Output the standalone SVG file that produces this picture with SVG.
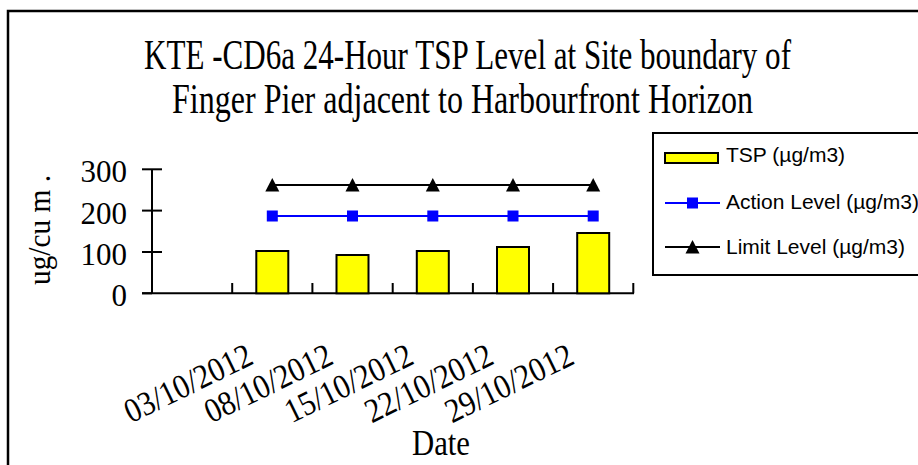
<svg xmlns="http://www.w3.org/2000/svg" width="918" height="465" viewBox="0 0 918 465">
<style>
.serif{font-family:"Liberation Serif","Times New Roman",serif;fill:#000}
.sans{font-family:"Liberation Sans",Arial,sans-serif;fill:#000;font-size:21px}
.ax{stroke:#000;stroke-width:2;fill:none}
.bar{fill:#ffff00;stroke:#000;stroke-width:2}
.act{stroke:#0000ff;stroke-width:2;fill:none}
.lim{stroke:#000;stroke-width:2;fill:none}
.sq{fill:#0000ff}
.tri{fill:#000}
.tick{font-size:31px;text-anchor:end}
.date{font-size:34px;text-anchor:end}
</style>
<defs>
<rect id="sqm" x="-5.5" y="-5.5" width="11" height="11" class="sq"/>
<polygon id="trim" points="0,-7 7,6.5 -7,6.5" class="tri"/>
</defs>
<rect width="918" height="465" fill="#fff"/>
<rect x="8" y="11" width="1000" height="1000" fill="none" stroke="#000" stroke-width="2.5"/>
<g id="title" class="serif" font-size="42">
<text x="144" y="69" textLength="647" lengthAdjust="spacingAndGlyphs">KTE -CD6a 24-Hour TSP Level at Site boundary of</text>
<text x="172" y="113" textLength="581" lengthAdjust="spacingAndGlyphs">Finger Pier adjacent to Harbourfront Horizon</text>
</g>
<g id="yaxis">
<line class="ax" x1="152" y1="169.3" x2="152" y2="293.3"/>
<line class="ax" x1="142" y1="169.3" x2="162" y2="169.3"/>
<line class="ax" x1="142" y1="210.6" x2="162" y2="210.6"/>
<line class="ax" x1="142" y1="252" x2="162" y2="252"/>
<line class="ax" x1="142" y1="293.3" x2="152" y2="293.3"/>
<g class="serif tick">
<text x="127" y="182">300</text>
<text x="127" y="224">200</text>
<text x="127" y="265">100</text>
<text x="127" y="306">0</text>
</g>
<text class="serif" font-size="31" text-anchor="middle" transform="translate(50,230) rotate(-90)" textLength="110" lengthAdjust="spacingAndGlyphs">ug/cu m .</text>
</g>
<g id="xaxis">
<line class="ax" x1="142" y1="293.3" x2="634" y2="293.3"/>
<path class="ax" d="M232.2,283V293.3M312.4,283V293.3M392.7,283V293.3M472.9,283V293.3M553.1,283V293.3M633.3,283V293.3"/>
<g class="serif date">
<text x="255" y="363" transform="rotate(-26 255 363)" textLength="138" lengthAdjust="spacingAndGlyphs">03/10/2012</text>
<text x="335.2" y="363" transform="rotate(-26 335.2 363)" textLength="138" lengthAdjust="spacingAndGlyphs">08/10/2012</text>
<text x="415.5" y="363" transform="rotate(-26 415.5 363)" textLength="138" lengthAdjust="spacingAndGlyphs">15/10/2012</text>
<text x="495.7" y="363" transform="rotate(-26 495.7 363)" textLength="138" lengthAdjust="spacingAndGlyphs">22/10/2012</text>
<text x="576" y="363" transform="rotate(-26 576 363)" textLength="138" lengthAdjust="spacingAndGlyphs">29/10/2012</text>
</g>
<text class="serif" font-size="35" x="441" y="455" text-anchor="middle" textLength="58" lengthAdjust="spacingAndGlyphs">Date</text>
</g>
<g id="tsp">
<rect class="bar" x="256.3" y="251" width="32" height="42.3"/>
<rect class="bar" x="336.5" y="255" width="32" height="38.3"/>
<rect class="bar" x="416.8" y="251" width="32" height="42.3"/>
<rect class="bar" x="497" y="247" width="32" height="46.3"/>
<rect class="bar" x="577.2" y="233" width="32" height="60.3"/>
</g>
<g id="connectors">
<line class="act" x1="272.3" y1="216" x2="593.2" y2="216"/>
<line class="lim" x1="272.3" y1="185" x2="593.2" y2="185"/>
</g>
<g id="action">
<use href="#sqm" x="272.3" y="216"/>
<use href="#sqm" x="352.5" y="216"/>
<use href="#sqm" x="432.8" y="216"/>
<use href="#sqm" x="513" y="216"/>
<use href="#sqm" x="593.2" y="216"/>
</g>
<g id="limit">
<use href="#trim" x="272.3" y="185"/>
<use href="#trim" x="352.5" y="185"/>
<use href="#trim" x="432.8" y="185"/>
<use href="#trim" x="513" y="185"/>
<use href="#trim" x="593.2" y="185"/>
</g>
<g id="legend">
<rect x="653" y="133" width="300" height="142" fill="#fff" stroke="#000" stroke-width="2"/>
<rect class="bar" x="665" y="153" width="53" height="10" stroke-width="1.5"/>
<text class="sans" x="726" y="162">TSP (µg/m3)</text>
<line class="act" x1="665" y1="203" x2="720" y2="203"/>
<use href="#sqm" x="692.5" y="203"/>
<text class="sans" x="726" y="209" font-size="21.5">Action Level (µg/m3)</text>
<line class="lim" x1="665" y1="247" x2="720" y2="247"/>
<use href="#trim" x="692.5" y="247"/>
<text class="sans" x="726" y="254">Limit Level (µg/m3)</text>
</g>
</svg>
